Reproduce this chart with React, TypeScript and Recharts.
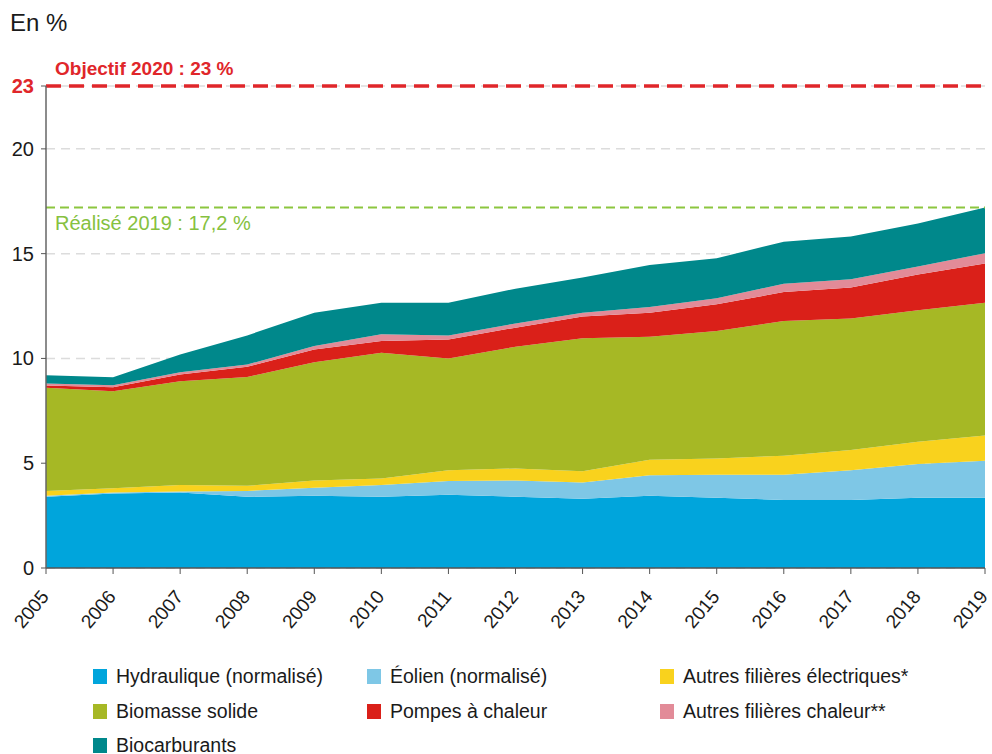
import React from 'react';
import { Area, AreaChart, CartesianGrid, ReferenceLine, XAxis, YAxis } from 'recharts';

// Part des énergies renouvelables dans la consommation finale brute (en %)

const YEARS = ['2005', '2006', '2007', '2008', '2009', '2010', '2011', '2012', '2013', '2014', '2015', '2016', '2017', '2018', '2019'];

const HYDRAULIQUE = [3.4, 3.55, 3.6, 3.4, 3.45, 3.4, 3.5, 3.4, 3.3, 3.45, 3.35, 3.25, 3.25, 3.35, 3.35];
const EOLIEN = [0.05, 0.05, 0.05, 0.28, 0.38, 0.56, 0.65, 0.78, 0.78, 0.98, 1.1, 1.2, 1.41, 1.61, 1.77];
const AUTRES_ELEC = [0.23, 0.2, 0.31, 0.24, 0.35, 0.31, 0.51, 0.57, 0.54, 0.74, 0.78, 0.91, 0.97, 1.07, 1.2];
const BIOMASSE = [4.92, 4.64, 4.95, 5.2, 5.64, 6.0, 5.34, 5.81, 6.34, 5.87, 6.08, 6.43, 6.27, 6.27, 6.34];
const PAC = [0.11, 0.19, 0.32, 0.48, 0.61, 0.56, 0.9, 0.91, 1.04, 1.14, 1.27, 1.38, 1.48, 1.7, 1.87];
const AUTRES_CHALEUR = [0.09, 0.09, 0.11, 0.11, 0.16, 0.32, 0.2, 0.2, 0.18, 0.27, 0.29, 0.39, 0.4, 0.39, 0.49];
const BIOCARBURANTS = [0.4, 0.38, 0.85, 1.39, 1.59, 1.51, 1.56, 1.66, 1.68, 2.01, 1.91, 2.01, 2.04, 2.05, 2.18];

const Y_TICKS = [0, 5, 10, 15, 20, 23];
const OBJECTIF = 23;
const REALISE = 17.2;

const FONT = '"Liberation Sans", Arial, sans-serif';
const INK = '#1a1a1a';

const SERIES = [
  { key: 'hydro', name: 'Hydraulique (normalisé)', color: '#00a5dc', values: HYDRAULIQUE },
  { key: 'eolien', name: 'Éolien (normalisé)', color: '#7ec7e6', values: EOLIEN },
  { key: 'autresElec', name: 'Autres filières électriques*', color: '#f9d21d', values: AUTRES_ELEC },
  { key: 'biomasse', name: 'Biomasse solide', color: '#a6b825', values: BIOMASSE },
  { key: 'pac', name: 'Pompes à chaleur', color: '#da2019', values: PAC },
  { key: 'autresChaleur', name: 'Autres filières chaleur**', color: '#e28b98', values: AUTRES_CHALEUR },
  { key: 'biocarb', name: 'Biocarburants', color: '#00888b', values: BIOCARBURANTS },
];

const data = YEARS.map((year, i) => {
  const row: Record<string, string | number> = { year };
  SERIES.forEach((s) => { row[s.key] = s.values[i]; });
  return row;
});

// legend grid: 3 columns x 3 rows, filled row by row
const LEGEND_COLS = [93, 367, 660];
const LEGEND_ROWS = [676, 711, 745];

function YTick({ x, y, payload }: any) {
  const top = payload.value === OBJECTIF;
  return (
    <text
      x={x - 5}
      y={y}
      dy={7}
      textAnchor="end"
      fontFamily={FONT}
      fontSize={20}
      fontWeight={top ? 700 : 400}
      fill={top ? '#e0262a' : INK}
    >
      {payload.value}
    </text>
  );
}

function XTick({ x, y, payload }: any) {
  return (
    <g transform={`translate(${x},${y + 18})`}>
      <text transform="rotate(-50)" textAnchor="end" dy={5} fontFamily={FONT} fontSize={19} fill={INK}>
        {payload.value}
      </text>
    </g>
  );
}

export default function App() {
  return (
    <div style={{ position: 'absolute', left: 0, top: 0, width: 992, height: 754, background: '#fff', fontFamily: FONT }}>
      <div style={{ position: 'absolute', left: 10, top: 9, fontSize: 24, color: INK }}>En %</div>
      <AreaChart
        width={992}
        height={754}
        data={data}
        margin={{ top: 86, right: 7, left: 6, bottom: 126 }}
      >
        <CartesianGrid horizontal vertical={false} stroke="#dcdcdc" strokeDasharray="9 6" strokeWidth={1.5} />
        <XAxis
          dataKey="year"
          height={60}
          tick={<XTick />}
          tickSize={6}
          tickLine={{ stroke: '#555' }}
          axisLine={{ stroke: '#555', strokeWidth: 1.5 }}
          interval={0}
        />
        <YAxis
          domain={[0, 23]}
          ticks={Y_TICKS}
          width={40}
          tick={<YTick />}
          tickSize={5}
          tickLine={{ stroke: '#555' }}
          axisLine={{ stroke: '#666', strokeWidth: 1.5 }}
          allowDataOverflow
        />
        {SERIES.map((s) => (
          <Area
            key={s.key}
            type="linear"
            dataKey={s.key}
            name={s.name}
            stackId="enr"
            stroke="none"
            fill={s.color}
            fillOpacity={1}
            isAnimationActive={false}
          />
        ))}
        <ReferenceLine
          y={REALISE}
          stroke="#8cc63f"
          strokeWidth={2}
          strokeDasharray="9 5"
          label={(props: any) => (
            <text x={props.viewBox.x + 9} y={props.viewBox.y + 22} fontFamily={FONT} fontSize={20} fill="#86c140">
              Réalisé 2019 : 17,2 %
            </text>
          )}
        />
        <ReferenceLine
          y={OBJECTIF}
          stroke="#e0262a"
          strokeWidth={3.5}
          strokeDasharray="15 8"
          label={(props: any) => (
            <text x={props.viewBox.x + 9} y={props.viewBox.y - 11} fontFamily={FONT} fontSize={19} fontWeight={700} fill="#e0262a">
              Objectif 2020 : 23 %
            </text>
          )}
        />
      </AreaChart>
      {SERIES.map((s, i) => (
        <div
          key={s.key}
          style={{
            position: 'absolute',
            left: LEGEND_COLS[i % 3],
            top: LEGEND_ROWS[Math.floor(i / 3)] - 11,
            display: 'flex',
            alignItems: 'center',
            fontSize: 19.5,
            color: INK,
            whiteSpace: 'nowrap',
            height: 22,
          }}
        >
          <span style={{ display: 'inline-block', width: 14, height: 15, background: s.color, marginRight: 9 }} />
          {s.name}
        </div>
      ))}
    </div>
  );
}
